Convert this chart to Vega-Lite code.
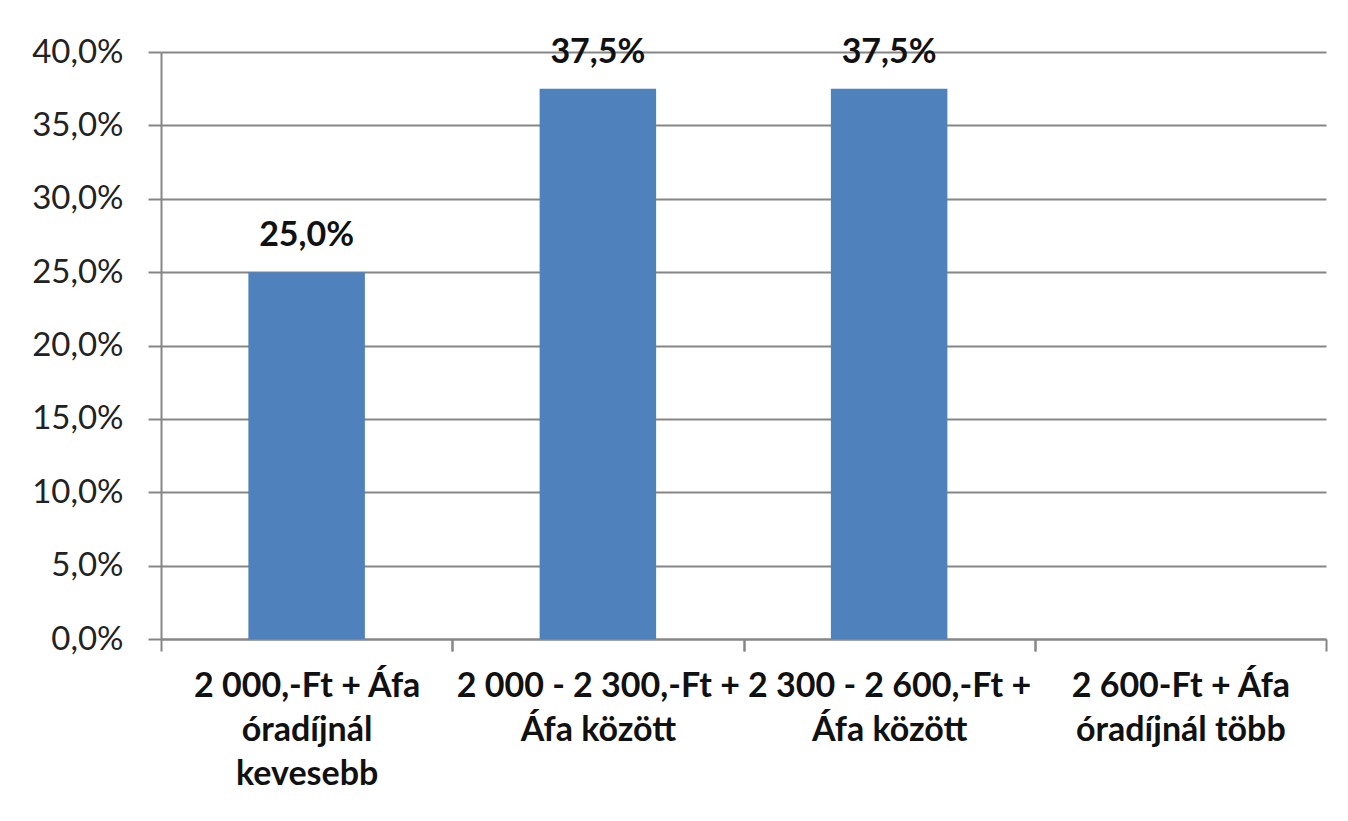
{
  "$schema": "https://vega.github.io/schema/vega-lite/v6.json",
  "width": 1165,
  "height": 587,
  "autosize": "none",
  "padding": {"left": 161, "top": 52, "right": 22, "bottom": 182},
  "background": "#ffffff",
  "config": {
    "locale": {"number": {"decimal": ",", "thousands": " ", "grouping": [3], "currency": ["", " Ft"]}},
    "font": "Lato",
    "view": {"stroke": null}
  },
  "data": {
    "values": [
      {"category": "2 000,-Ft + Áfa|óradíjnál|kevesebb", "value": 0.25},
      {"category": "2 000 - 2 300,-Ft +|Áfa között", "value": 0.375},
      {"category": "2 300 - 2 600,-Ft +|Áfa között", "value": 0.375},
      {"category": "2 600-Ft + Áfa|óradíjnál több", "value": 0}
    ]
  },
  "encoding": {
    "y": {
      "field": "value",
      "type": "quantitative",
      "scale": {"domain": [0, 0.4]},
      "axis": {
        "title": null,
        "values": [0, 0.05, 0.1, 0.15, 0.2, 0.25, 0.3, 0.35, 0.4],
        "format": ".1%",
        "labelFont": "Lato",
        "labelFontSize": 33,
        "labelColor": "#222222",
        "labelPadding": 25,
        "tickSize": 13,
        "tickColor": "#868686",
        "tickWidth": 2,
        "domainColor": "#868686",
        "domainWidth": 2,
        "grid": true,
        "gridColor": "#868686",
        "gridWidth": 2
      }
    }
  },
  "layer": [
    {
      "mark": {"type": "bar", "color": "#4f81bd"},
      "encoding": {
        "x": {
          "field": "category",
          "type": "nominal",
          "sort": null,
          "scale": {
            "domain": ["2 000,-Ft + Áfa|óradíjnál|kevesebb", "2 000 - 2 300,-Ft +|Áfa között", "2 300 - 2 600,-Ft +|Áfa között", "2 600-Ft + Áfa|óradíjnál több"],
            "paddingInner": 0.6,
            "paddingOuter": 0.3
          },
          "axis": {
            "title": null,
            "orient": "bottom",
            "labelAngle": 0,
            "labelExpr": "split(datum.label, '|')",
            "labelFont": "Lato",
            "labelFontSize": 34,
            "labelFontWeight": "bold",
            "labelColor": "#111111",
            "labelLineHeight": 44,
            "labelBaseline": "top",
            "labelPadding": 18,
            "tickOffset": 145.625,
            "labelOffset": -145.625,
            "tickSize": 12,
            "tickColor": "#868686",
            "tickWidth": 2,
            "domainColor": "#868686",
            "domainWidth": 2,
            "labelLimit": 400
          }
        }
      }
    },
    {
      "transform": [{"filter": "datum.value > 0"}],
      "mark": {"type": "text", "font": "Lato", "fontSize": 34, "fontWeight": "bold", "color": "#111111", "baseline": "alphabetic", "dy": -26},
      "encoding": {
        "x": {
          "field": "category",
          "type": "nominal",
          "sort": null,
          "scale": {
            "domain": ["2 000,-Ft + Áfa|óradíjnál|kevesebb", "2 000 - 2 300,-Ft +|Áfa között", "2 300 - 2 600,-Ft +|Áfa között", "2 600-Ft + Áfa|óradíjnál több"],
            "paddingInner": 0.6,
            "paddingOuter": 0.3
          },
          "axis": {
            "title": null,
            "orient": "bottom",
            "labels": false,
            "domain": false,
            "tickOffset": -145.625,
            "tickSize": 12,
            "tickColor": "#868686",
            "tickWidth": 2
          }
        },
        "text": {"field": "value", "type": "quantitative", "format": ".1%"}
      }
    }
  ],
  "resolve": {"scale": {"x": "independent"}, "axis": {"x": "independent"}}
}
